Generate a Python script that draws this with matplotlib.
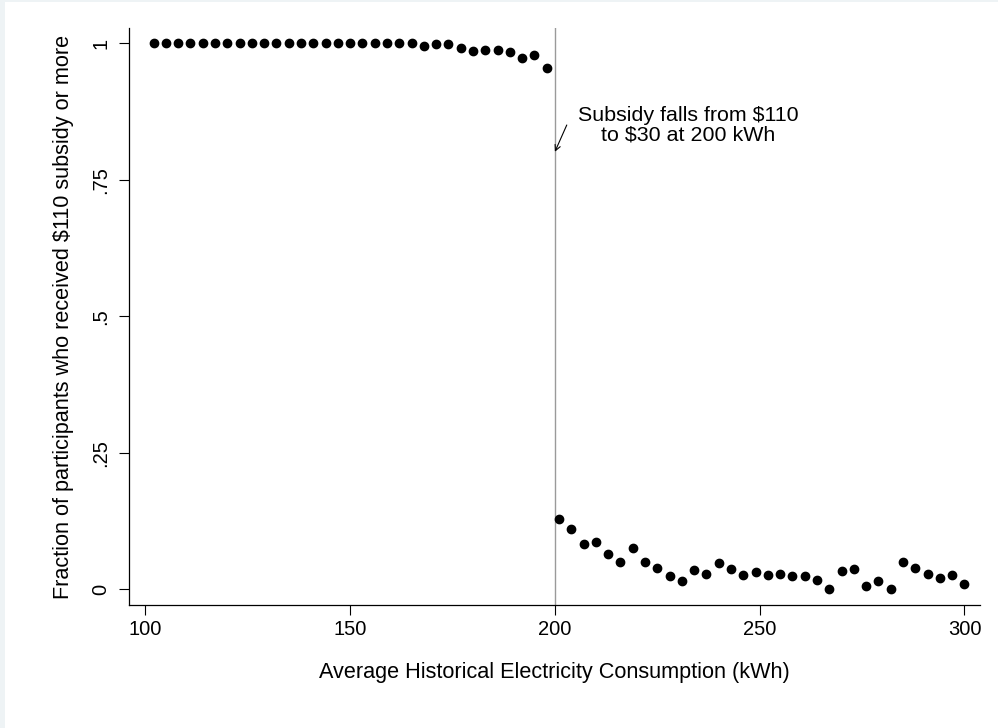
import matplotlib
matplotlib.use("Agg")
from matplotlib import pyplot as plt
from matplotlib.patches import Rectangle

plt.rcParams['font.family'] = ['Liberation Sans', 'DejaVu Sans']

# bins below the 200 kWh cutoff
x_below = list(range(102, 199, 3))
y_below = [1.0] * 22 + [0.994, 0.9975, 0.999, 0.991, 0.986, 0.987, 0.987,
                        0.983, 0.9725, 0.978, 0.955]

# bins above the cutoff
x_above = list(range(201, 301, 3))
y_above = [0.128, 0.110, 0.084, 0.087, 0.065, 0.051, 0.075, 0.050, 0.040,
           0.024, 0.015, 0.035, 0.029, 0.049, 0.038, 0.027, 0.032, 0.026,
           0.029, 0.024, 0.025, 0.018, 0.0, 0.033, 0.037, 0.007, 0.016,
           0.0, 0.051, 0.040, 0.028, 0.020, 0.026, 0.010]

xticks = [100, 150, 200, 250, 300]
yticks = [0, 0.25, 0.5, 0.75, 1]
ytick_labels = ["0", ".25", ".5", ".75", "1"]
cutoff = 200

fig = plt.figure(figsize=(9.98, 7.28), dpi=100)
fig.patch.set_facecolor("#eef3f5")
fig.patches.append(Rectangle((5 / 998, 0), 1, 1 - 2 / 728, transform=fig.transFigure,
                             facecolor="white", edgecolor="none", zorder=-1))
ax = fig.add_axes([0.1296, 0.169, 0.982 - 0.1296, 0.9615 - 0.169])
ax.set_facecolor("white")

ax.axvline(cutoff, color="#9a9a9a", lw=1.0, zorder=1)
ax.plot(x_below + x_above, y_below + y_above, "o", color="black",
        markersize=6, zorder=3)

ax.set_xlim(96.1, 303.8)
ax.set_ylim(-0.0285, 1.0275)
ax.set_xticks(xticks)
ax.set_yticks(yticks)
ax.set_yticklabels(ytick_labels, rotation=90, va="center")
ax.tick_params(direction="out", length=7, width=0.8, labelsize=14.5)
ax.tick_params(axis="x", pad=4)
ax.tick_params(axis="y", pad=6.5)

for s in ["top", "right"]:
    ax.spines[s].set_visible(False)
for s in ["left", "bottom"]:
    ax.spines[s].set_linewidth(0.9)

ax.set_xlabel("Average Historical Electricity Consumption (kWh)", fontsize=15.6, labelpad=16.5)
ax.set_ylabel("Fraction of participants who received $110 subsidy or more", fontsize=15.6,
              labelpad=13)

ax.annotate("", xy=(200, 0.801), xytext=(202.9, 0.85),
            arrowprops=dict(arrowstyle="->", color="black", lw=0.8,
                            shrinkA=0, shrinkB=0))
ax.text(232.5, 0.849, "Subsidy falls from $110\nto $30 at 200 kWh", fontsize=15.4,
        ha="center", va="center", linespacing=1.05)

plt.savefig("out.png", dpi=100, facecolor=fig.get_facecolor())
